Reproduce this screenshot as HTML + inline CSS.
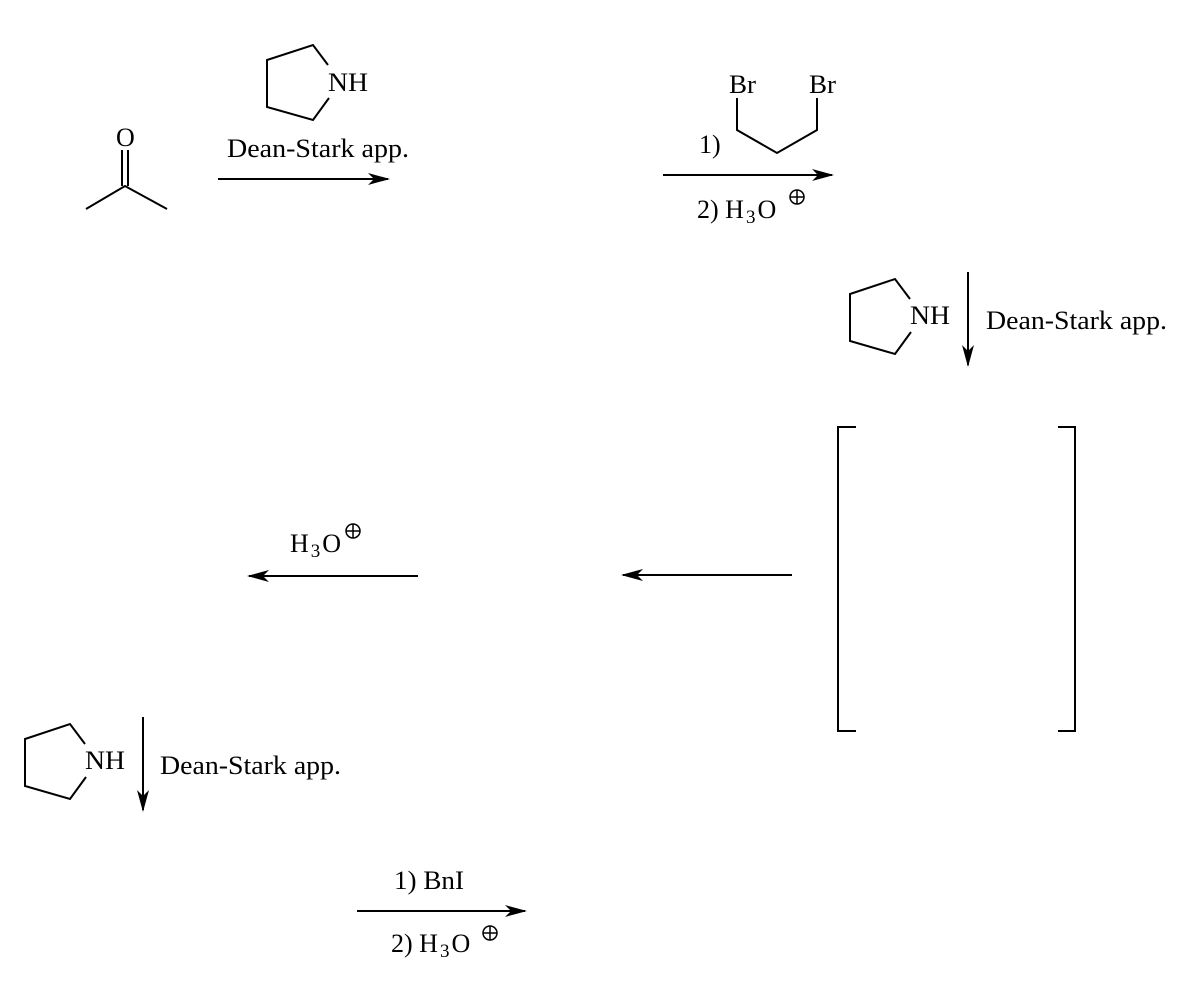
<!DOCTYPE html>
<html><head><style>body{margin:0;background:#fff}svg{display:block}text{font-family:"Liberation Serif",serif;font-size:26px;fill:#000}</style></head>
<body>
<svg width="1190" height="1000" xmlns="http://www.w3.org/2000/svg">
<defs><marker id="a" markerWidth="22" markerHeight="12" refX="20" refY="6" orient="auto" markerUnits="userSpaceOnUse"><path d="M0,0 L22,6 L0,12 L6,6Z" fill="#000"/></marker></defs>
<g stroke="#000" stroke-width="2" fill="none">
<line x1="122" y1="150" x2="122" y2="186"/><line x1="128" y1="150" x2="128" y2="186"/>
<polyline points="86,209 125,186 167,209"/>
<polyline points="328,65 313,45 267,60 267,107 313,120 329,98"/>
<line x1="218" y1="179" x2="388" y2="179" marker-end="url(#a)"/>
<polyline points="737,98 737,130 777,153 817,130 817,98"/>
<line x1="663" y1="175" x2="832" y2="175" marker-end="url(#a)"/>
<circle cx="797" cy="197" r="7" stroke-width="1.5"/><line x1="790" y1="197" x2="804" y2="197" stroke-width="1.5"/><line x1="797" y1="190" x2="797" y2="204" stroke-width="1.5"/>
<polyline points="910,299 895,279 850,294 850,341 895,354 911,332"/>
<line x1="968" y1="272" x2="968" y2="365" marker-end="url(#a)"/>
<polyline points="856,427 838,427 838,731 856,731"/>
<polyline points="1058,427 1075,427 1075,731 1058,731"/>
<line x1="792" y1="575" x2="623" y2="575" marker-end="url(#a)"/>
<line x1="418" y1="576" x2="249" y2="576" marker-end="url(#a)"/>
<circle cx="353" cy="531" r="7" stroke-width="1.5"/><line x1="346" y1="531" x2="360" y2="531" stroke-width="1.5"/><line x1="353" y1="524" x2="353" y2="538" stroke-width="1.5"/>
<polyline points="85,744 70,724 25,739 25,786 70,799 86,777"/>
<line x1="143" y1="717" x2="143" y2="810" marker-end="url(#a)"/>
<line x1="357" y1="911" x2="525" y2="911" marker-end="url(#a)"/>
<circle cx="490" cy="933" r="7" stroke-width="1.5"/><line x1="483" y1="933" x2="497" y2="933" stroke-width="1.5"/><line x1="490" y1="926" x2="490" y2="940" stroke-width="1.5"/>
</g>
<text x="116" y="146">O</text>
<text x="328" y="91" textLength="40" lengthAdjust="spacingAndGlyphs">NH</text>
<text x="227" y="157" textLength="182" lengthAdjust="spacingAndGlyphs">Dean-Stark app.</text>
<text x="729" y="93" textLength="27" lengthAdjust="spacingAndGlyphs">Br</text>
<text x="809" y="93" textLength="27" lengthAdjust="spacingAndGlyphs">Br</text>
<text x="699" y="153">1)</text>
<text x="697" y="218">2) H<tspan font-size="19" dx="2" dy="5">3</tspan><tspan dx="2" dy="-5">O</tspan></text>
<text x="910" y="324" textLength="40" lengthAdjust="spacingAndGlyphs">NH</text>
<text x="986" y="329" textLength="181" lengthAdjust="spacingAndGlyphs">Dean-Stark app.</text>
<text x="290" y="552">H<tspan font-size="19" dx="2" dy="5">3</tspan><tspan dx="2" dy="-5">O</tspan></text>
<text x="85" y="769" textLength="40" lengthAdjust="spacingAndGlyphs">NH</text>
<text x="160" y="774" textLength="181" lengthAdjust="spacingAndGlyphs">Dean-Stark app.</text>
<text x="394" y="889" textLength="70" lengthAdjust="spacingAndGlyphs">1) BnI</text>
<text x="391" y="952">2) H<tspan font-size="19" dx="2" dy="5">3</tspan><tspan dx="2" dy="-5">O</tspan></text>
</svg>
</body></html>
